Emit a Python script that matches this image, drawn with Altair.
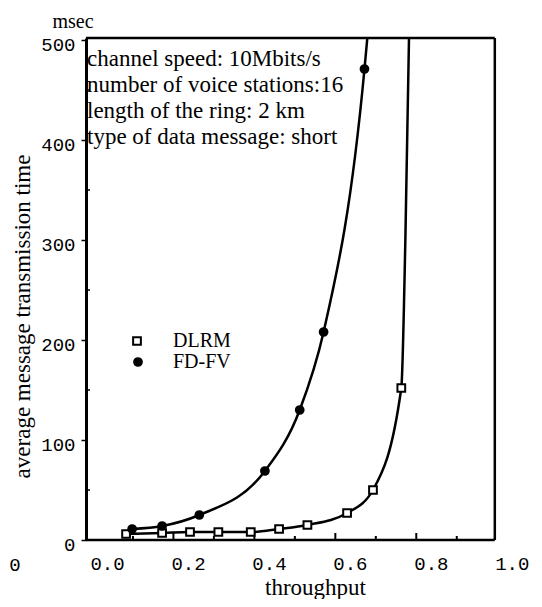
import altair as alt
import pandas as pd

series_names = ["DLRM", "FD-FV"]
series_shapes = ["square", "circle"]
series_fills = ["white", "black"]

# measured points (throughput, msec)
dlrm_throughput = [0.047, 0.136, 0.205, 0.275, 0.355, 0.425, 0.495, 0.593, 0.657, 0.727]
dlrm_delay = [6, 7, 8, 8, 8, 11, 15, 27, 50, 152]
fdfv_throughput = [0.062, 0.136, 0.228, 0.39, 0.476, 0.535, 0.636]
fdfv_delay = [11, 14, 25, 69, 130, 208, 471]

# curve read-off beyond the last markers (up to the top of the frame)
dlrm_curve_x = [0.737, 0.746]
dlrm_curve_y = [300, 502]
fdfv_curve_x = [0.643]
fdfv_curve_y = [502]

x_tick_values = [0.0, 0.2, 0.4, 0.6, 0.8, 1.0]
y_tick_values = [0, 100, 200, 300, 400, 500]
y_minor_ticks = [50, 150, 250, 350, 450]
x_inner_major = [0.164, 0.364, 0.564, 0.764]
x_inner_minor = [0.064, 0.264, 0.464, 0.664, 0.864]

x_domain = [-0.052, 1.04]
y_domain = [0, 502]
frame_left, frame_right = -0.052, 0.958

annotation_lines = [
    "channel speed: 10Mbits/s",
    "number of voice stations:16",
    "length of the ring: 2 km",
    "type of data message: short",
]

W, H = 442, 502
SERIF = "Liberation Serif"
MONO = "Liberation Mono"

marker_df = pd.DataFrame({
    "throughput": dlrm_throughput + fdfv_throughput,
    "delay": dlrm_delay + fdfv_delay,
    "series": ["DLRM"] * len(dlrm_throughput) + ["FD-FV"] * len(fdfv_throughput),
})
line_df = pd.DataFrame({
    "throughput": dlrm_throughput + dlrm_curve_x + fdfv_throughput + fdfv_curve_x,
    "delay": dlrm_delay + dlrm_curve_y + fdfv_delay + fdfv_curve_y,
    "series": ["DLRM"] * (len(dlrm_throughput) + len(dlrm_curve_x))
    + ["FD-FV"] * (len(fdfv_throughput) + len(fdfv_curve_x)),
})

xs = alt.Scale(domain=x_domain, nice=False, zero=False)
ys = alt.Scale(domain=y_domain, nice=False, zero=False)

xaxis = alt.Axis(
    values=x_tick_values, format=".1f", domain=False, ticks=False, grid=False,
    labelFont=MONO, labelFontSize=19, labelColor="black", labelPadding=14,
    labelFlush=False,
    title="throughput", titleFont=SERIF, titleFontSize=23,
    titleFontWeight="normal", titleColor="black", titleX=229, titleY=36,
)
yaxis = alt.Axis(
    values=y_tick_values, grid=False, domainColor="black", domainWidth=3,
    tickColor="black", tickSize=5, tickWidth=1.5,
    labelFont=MONO, labelFontSize=19, labelColor="black", labelPadding=6,
    labelOffset=4, labelFlush=False,
    title="average message transmission time", titleFont=SERIF,
    titleFontSize=23, titleFontWeight="normal", titleColor="black",
    titleX=-52, titleY=278,
)

lines = alt.Chart(line_df).mark_line(
    interpolate="monotone", color="black", strokeWidth=2.5
).encode(
    x=alt.X("throughput:Q", scale=xs, axis=xaxis),
    y=alt.Y("delay:Q", scale=ys, axis=yaxis),
    detail="series:N",
)

points = alt.Chart(marker_df).mark_point(
    size=60, strokeWidth=2, stroke="black", opacity=1, fillOpacity=1
).encode(
    x=alt.X("throughput:Q", scale=xs, axis=xaxis),
    y=alt.Y("delay:Q", scale=ys, axis=yaxis),
    shape=alt.Shape("series:N", scale=alt.Scale(domain=series_names, range=series_shapes), legend=None),
    fill=alt.Fill("series:N", scale=alt.Scale(domain=series_names, range=series_fills), legend=None),
)

dummy = pd.DataFrame({"k": [0]})
frame_bottom = alt.Chart(dummy).mark_rule(color="black", strokeWidth=2.5).encode(
    x=alt.X(datum=frame_left, type="quantitative", scale=xs, axis=xaxis), x2=alt.X2(datum=frame_right),
    y=alt.Y(datum=y_domain[0], type="quantitative", scale=ys, axis=yaxis))
frame_top = alt.Chart(dummy).mark_rule(color="black", strokeWidth=2.5).encode(
    x=alt.X(datum=frame_left, type="quantitative", scale=xs, axis=xaxis), x2=alt.X2(datum=frame_right),
    y=alt.Y(datum=y_domain[1], type="quantitative", scale=ys, axis=yaxis))
frame_right_rule = alt.Chart(dummy).mark_rule(color="black", strokeWidth=2.5).encode(
    x=alt.X(datum=frame_right, type="quantitative", scale=xs, axis=xaxis),
    y=alt.Y(datum=y_domain[0], type="quantitative", scale=ys, axis=yaxis), y2=alt.Y2(datum=y_domain[1]))

inner_major = alt.Chart(pd.DataFrame({"throughput": x_inner_major})).mark_rule(color="black", strokeWidth=2).encode(
    x=alt.X("throughput:Q", scale=xs, axis=xaxis), y=alt.value(H), y2=alt.value(H - 7))
inner_minor = alt.Chart(pd.DataFrame({"throughput": x_inner_minor})).mark_rule(color="black", strokeWidth=2).encode(
    x=alt.X("throughput:Q", scale=xs, axis=xaxis), y=alt.value(H), y2=alt.value(H - 4))
left_minor = alt.Chart(pd.DataFrame({"delay": y_minor_ticks})).mark_rule(color="black", strokeWidth=1.5).encode(
    y=alt.Y("delay:Q", scale=ys, axis=yaxis), x=alt.value(0), x2=alt.value(4))

# manual legend
legend_square = alt.Chart(dummy).mark_point(
    shape=series_shapes[0], fill=series_fills[0], stroke="black", strokeWidth=2, size=60, opacity=1
).encode(x=alt.value(51), y=alt.value(303))
legend_circle = alt.Chart(dummy).mark_point(
    shape=series_shapes[1], fill=series_fills[1], stroke="black", strokeWidth=2, size=60, opacity=1
).encode(x=alt.value(52), y=alt.value(324))
legend_text1 = alt.Chart(dummy).mark_text(
    text=series_names[0], align="left", baseline="middle", font=SERIF, fontSize=20, color="black"
).encode(x=alt.value(87), y=alt.value(303))
legend_text2 = alt.Chart(dummy).mark_text(
    text=series_names[1], align="left", baseline="middle", font=SERIF, fontSize=20, color="black"
).encode(x=alt.value(87), y=alt.value(324))

annotation = alt.Chart(dummy).mark_text(
    text=annotation_lines, align="left", baseline="top", lineHeight=26,
    font=SERIF, fontSize=23, color="black",
).encode(x=alt.value(1), y=alt.value(10))

msec = alt.Chart(dummy).mark_text(
    text="msec", align="center", baseline="middle", font=SERIF, fontSize=20, color="black"
).encode(x=alt.value(-13), y=alt.value(-16))

stray_zero = alt.Chart(dummy).mark_text(
    text="0", align="center", baseline="middle", font=MONO, fontSize=19, color="black"
).encode(x=alt.value(-71), y=alt.value(527))

chart = alt.layer(
    lines, frame_bottom, frame_top, frame_right_rule, inner_major, inner_minor,
    left_minor, points, legend_square, legend_circle, legend_text1, legend_text2,
    annotation, msec, stray_zero,
).properties(
    width=W, height=H,
    autosize=alt.AutoSizeParams(type="none"),
    padding={"left": 78, "top": 30, "right": 6, "bottom": 59},
    background="white",
).configure_view(stroke=None)

chart.save("out.html", embed_options={"renderer": "svg", "actions": False})
